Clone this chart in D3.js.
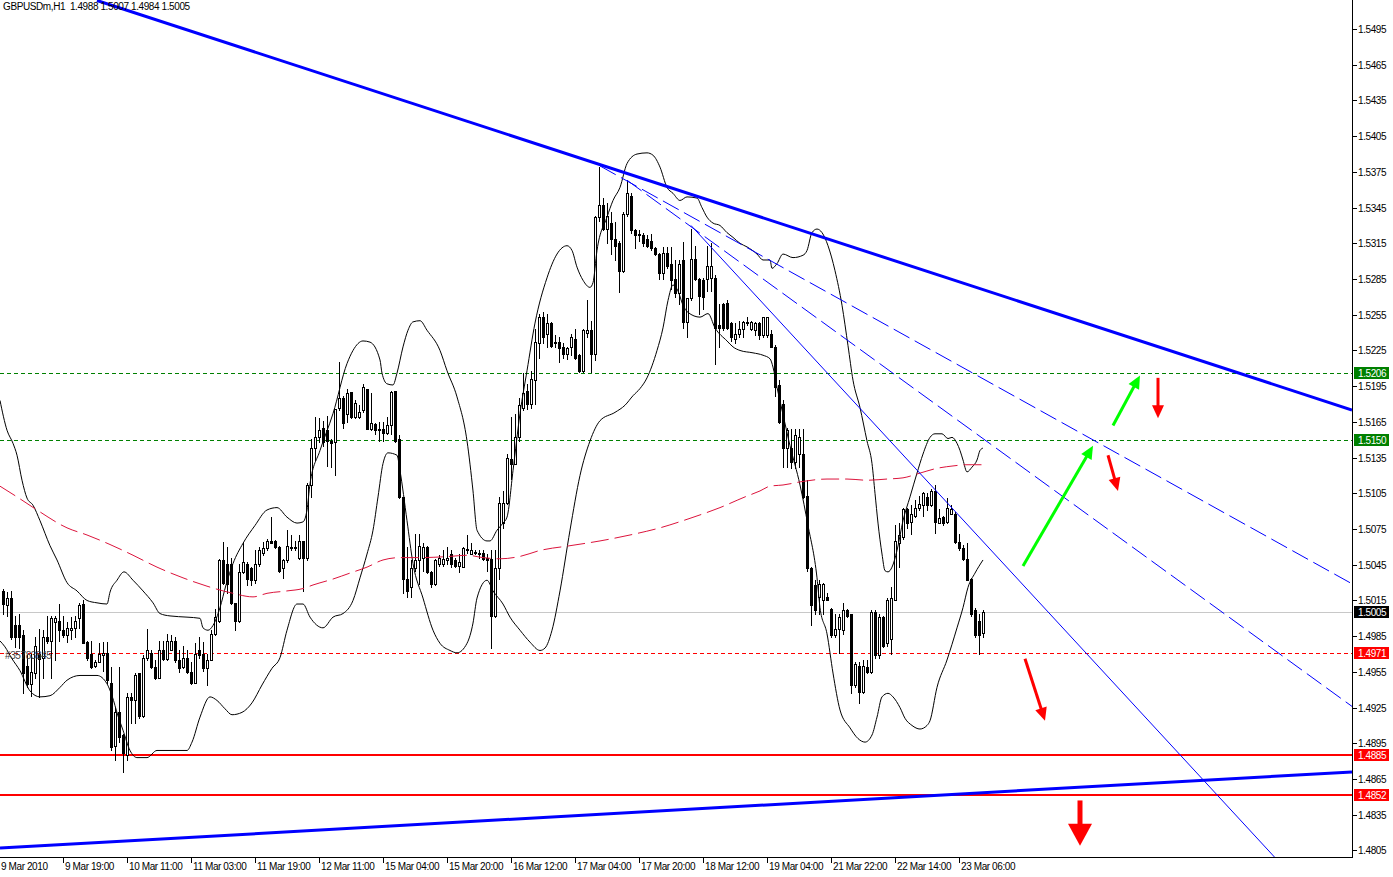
<!DOCTYPE html>
<html><head><meta charset="utf-8">
<script src="https://cdn.jsdelivr.net/npm/d3@7"></script>
<style>
body{margin:0;background:#fff}
svg{display:block}
text{font-family:"Liberation Sans",Arial,sans-serif;font-size:10px;letter-spacing:-0.4px}
</style></head>
<body><svg id="c" width="1393" height="877"></svg>
<script>
// ---------- DATA ----------
const opens = [1.5023,1.5011,1.5017,1.4994,1.4994,1.4986,1.4960,1.4945,1.4954,1.4970,
1.4967,1.4984,1.4981,1.4997,1.4998,1.4990,1.4986,1.4990,1.4992,1.5000,
1.5012,1.4980,1.4970,1.4960,1.4963,1.4969,1.4971,1.4946,1.4893,1.4921,
1.4902,1.4885,1.4934,1.4931,1.4954,1.4918,1.4967,1.4971,1.4959,1.4950,
1.4973,1.4966,1.4973,1.4981,1.4965,1.4959,1.4967,1.4955,1.4946,1.4973,
1.4970,1.4958,1.4965,1.4987,1.4998,1.5049,1.5046,1.5046,1.5013,1.4998,
1.5039,1.5046,1.5042,1.5032,1.5046,1.5055,1.5059,1.5065,1.5065,1.5060,
1.5042,1.5049,1.5060,1.5059,1.5051,1.5065,1.5051,1.5112,1.5143,1.5152,
1.5160,1.5158,1.5149,1.5148,1.5177,1.5185,1.5172,1.5190,1.5169,1.5169,
1.5175,1.5193,1.5159,1.5163,1.5158,1.5159,1.5156,1.5162,1.5191,1.5151,
1.5102,1.5033,1.5026,1.5042,1.5049,1.5051,1.5060,1.5039,1.5029,1.5046,
1.5046,1.5049,1.5054,1.5049,1.5044,1.5043,1.5057,1.5054,1.5056,1.5054,
1.5055,1.5051,1.5050,1.5002,1.5042,1.5080,1.5097,1.5134,1.5130,1.5152,
1.5177,1.5191,1.5180,1.5200,1.5231,1.5253,1.5239,1.5248,1.5232,1.5232,
1.5228,1.5222,1.5228,1.5235,1.5221,1.5208,1.5240,1.5242,1.5222,1.5337,
1.5347,1.5327,1.5332,1.5319,1.5315,1.5292,1.5340,1.5355,1.5326,1.5322,
1.5322,1.5319,1.5317,1.5311,1.5306,1.5290,1.5307,1.5298,1.5285,1.5273,
1.5301,1.5249,1.5269,1.5302,1.5285,1.5284,1.5285,1.5286,1.5286,1.5246,
1.5264,1.5265,1.5248,1.5235,1.5239,1.5243,1.5248,1.5243,1.5242,1.5248,
1.5238,1.5238,1.5239,1.5228,1.5196,1.5180,1.5143,1.5143,1.5131,1.5138,
1.5138,1.5103,1.5042,1.5028,1.5018,1.5015,1.5018,1.5008,1.4986,1.4991,
1.4990,1.5007,1.5004,1.4944,1.4960,1.4938,1.4959,1.4955,1.5005,1.4969,
1.5001,1.4979,1.4983,1.5015,1.5063,1.5068,1.5092,1.5081,1.5086,1.5093,
1.5095,1.5102,1.5095,1.5107,1.5080,1.5085,1.5081,1.5088,1.5088,1.5064,
1.5059,1.5050,1.5033,1.5007,1.4998,1.4988];

const highs = [1.5025,1.5022,1.5023,1.5002,1.5004,1.4990,1.4969,1.4970,1.4984,1.4991,
1.4990,1.5002,1.5002,1.5002,1.5012,1.5002,1.4997,1.5001,1.5002,1.5013,
1.5015,1.4981,1.4981,1.4965,1.4979,1.4980,1.4980,1.4959,1.4925,1.4959,
1.4903,1.4937,1.4937,1.4954,1.4954,1.4969,1.4991,1.4973,1.4965,1.4981,
1.4981,1.4987,1.4986,1.4984,1.4973,1.4977,1.4973,1.4963,1.4979,1.4984,
1.4980,1.4970,1.4990,1.5008,1.5050,1.5064,1.5060,1.5051,1.5013,1.5046,
1.5064,1.5047,1.5043,1.5057,1.5060,1.5064,1.5067,1.5085,1.5066,1.5061,
1.5050,1.5074,1.5070,1.5065,1.5070,1.5065,1.5114,1.5151,1.5169,1.5168,
1.5166,1.5170,1.5151,1.5176,1.5215,1.5187,1.5193,1.5190,1.5183,1.5179,
1.5197,1.5193,1.5189,1.5164,1.5165,1.5165,1.5169,1.5191,1.5191,1.5154,
1.5102,1.5060,1.5049,1.5071,1.5071,1.5063,1.5061,1.5040,1.5050,1.5053,
1.5057,1.5060,1.5057,1.5051,1.5054,1.5060,1.5070,1.5063,1.5057,1.5057,
1.5057,1.5054,1.5057,1.5057,1.5102,1.5107,1.5138,1.5169,1.5172,1.5185,
1.5206,1.5197,1.5208,1.5243,1.5256,1.5257,1.5256,1.5249,1.5238,1.5236,
1.5231,1.5228,1.5239,1.5243,1.5222,1.5243,1.5267,1.5250,1.5338,1.5379,
1.5353,1.5349,1.5341,1.5333,1.5317,1.5341,1.5368,1.5357,1.5327,1.5326,
1.5324,1.5322,1.5323,1.5312,1.5307,1.5312,1.5312,1.5312,1.5301,1.5301,
1.5316,1.5269,1.5327,1.5313,1.5286,1.5286,1.5313,1.5315,1.5288,1.5264,
1.5265,1.5267,1.5249,1.5248,1.5250,1.5250,1.5253,1.5250,1.5249,1.5249,
1.5253,1.5253,1.5242,1.5230,1.5200,1.5183,1.5160,1.5159,1.5159,1.5159,
1.5159,1.5116,1.5043,1.5032,1.5032,1.5030,1.5021,1.5009,1.5004,1.5004,
1.5013,1.5008,1.5004,1.4963,1.4963,1.4965,1.4965,1.5007,1.5007,1.5004,
1.5002,1.5017,1.5026,1.5078,1.5080,1.5093,1.5093,1.5095,1.5099,1.5103,
1.5106,1.5105,1.5109,1.5112,1.5092,1.5086,1.5101,1.5095,1.5089,1.5071,
1.5062,1.5063,1.5034,1.5009,1.5004,1.5007];

const lows = [1.5004,1.5002,1.4983,1.4976,1.4975,1.4937,1.4942,1.4935,1.4950,1.4934,
1.4950,1.4979,1.4950,1.4965,1.4981,1.4984,1.4980,1.4983,1.4984,1.4992,
1.4979,1.4965,1.4958,1.4959,1.4963,1.4956,1.4946,1.4889,1.4881,1.4896,
1.4871,1.4881,1.4912,1.4912,1.4916,1.4917,1.4965,1.4958,1.4949,1.4950,
1.4965,1.4965,1.4973,1.4963,1.4955,1.4958,1.4954,1.4945,1.4946,1.4967,
1.4956,1.4944,1.4965,1.4986,1.4997,1.5029,1.5021,1.5012,1.4990,1.4997,
1.5038,1.5028,1.5028,1.5030,1.5044,1.5053,1.5057,1.5063,1.5059,1.5039,
1.5034,1.5047,1.5057,1.5057,1.5050,1.5023,1.5049,1.5102,1.5133,1.5148,
1.5145,1.5128,1.5127,1.5120,1.5175,1.5160,1.5165,1.5168,1.5168,1.5168,
1.5173,1.5159,1.5158,1.5155,1.5149,1.5149,1.5155,1.5155,1.5148,1.5101,
1.5021,1.5018,1.5018,1.5040,1.5029,1.5040,1.5038,1.5026,1.5028,1.5044,
1.5044,1.5046,1.5043,1.5043,1.5039,1.5043,1.5055,1.5054,1.5054,1.5051,
1.5049,1.5040,1.4975,1.5001,1.5033,1.5076,1.5096,1.5117,1.5130,1.5149,
1.5175,1.5176,1.5177,1.5180,1.5219,1.5231,1.5228,1.5228,1.5228,1.5215,
1.5219,1.5218,1.5221,1.5218,1.5207,1.5207,1.5236,1.5207,1.5217,1.5334,
1.5326,1.5315,1.5306,1.5301,1.5274,1.5291,1.5338,1.5324,1.5311,1.5317,
1.5313,1.5312,1.5309,1.5305,1.5285,1.5285,1.5294,1.5277,1.5270,1.5264,
1.5244,1.5236,1.5267,1.5284,1.5256,1.5260,1.5275,1.5275,1.5214,1.5228,
1.5242,1.5243,1.5233,1.5231,1.5236,1.5236,1.5246,1.5242,1.5238,1.5235,
1.5236,1.5236,1.5228,1.5187,1.5164,1.5127,1.5127,1.5126,1.5126,1.5127,
1.5101,1.5040,1.4994,1.5004,1.5004,1.5004,1.5015,1.4984,1.4984,1.4971,
1.4987,1.5001,1.4937,1.4942,1.4929,1.4937,1.4954,1.4954,1.4967,1.4967,
1.4976,1.4977,1.4970,1.5015,1.5043,1.5067,1.5076,1.5071,1.5085,1.5091,
1.5086,1.5091,1.5094,1.5072,1.5080,1.5078,1.5080,1.5088,1.5063,1.5057,
1.5049,1.5032,1.5002,1.4984,1.4970,1.4984];

const closes = [1.5012,1.5017,1.4984,1.4984,1.4984,1.4954,1.4945,1.4955,1.4977,1.4966,
1.4984,1.4981,1.5000,1.5000,1.4990,1.4986,1.4992,1.4992,1.4998,1.5011,
1.4979,1.4967,1.4959,1.4963,1.4970,1.4971,1.4948,1.4892,1.4921,1.4900,
1.4887,1.4934,1.4931,1.4952,1.4918,1.4967,1.4973,1.4959,1.4950,1.4973,
1.4966,1.4981,1.4981,1.4965,1.4958,1.4967,1.4955,1.4946,1.4970,1.4969,
1.4958,1.4965,1.4987,1.5001,1.5049,1.5030,1.5029,1.5013,1.4998,1.5039,
1.5047,1.5033,1.5032,1.5046,1.5057,1.5059,1.5065,1.5063,1.5060,1.5040,
1.5049,1.5061,1.5059,1.5060,1.5065,1.5051,1.5112,1.5143,1.5152,1.5158,
1.5148,1.5149,1.5147,1.5176,1.5185,1.5164,1.5189,1.5169,1.5181,1.5173,
1.5194,1.5159,1.5164,1.5158,1.5159,1.5156,1.5162,1.5190,1.5149,1.5102,
1.5033,1.5023,1.5042,1.5049,1.5061,1.5060,1.5039,1.5029,1.5049,1.5051,
1.5050,1.5051,1.5046,1.5044,1.5047,1.5059,1.5058,1.5057,1.5055,1.5055,
1.5050,1.5049,1.5002,1.5042,1.5097,1.5097,1.5135,1.5130,1.5152,1.5179,
1.5189,1.5180,1.5201,1.5232,1.5253,1.5236,1.5248,1.5229,1.5231,1.5227,
1.5222,1.5227,1.5236,1.5219,1.5208,1.5242,1.5242,1.5222,1.5337,1.5347,
1.5327,1.5338,1.5319,1.5313,1.5292,1.5340,1.5357,1.5326,1.5322,1.5323,
1.5315,1.5313,1.5311,1.5306,1.5290,1.5307,1.5296,1.5284,1.5273,1.5298,
1.5249,1.5269,1.5302,1.5285,1.5271,1.5270,1.5296,1.5296,1.5244,1.5244,
1.5244,1.5244,1.5236,1.5239,1.5243,1.5249,1.5249,1.5249,1.5248,1.5238,
1.5253,1.5253,1.5228,1.5194,1.5165,1.5143,1.5158,1.5131,1.5154,1.5152,
1.5102,1.5042,1.5011,1.5007,1.5029,1.5029,1.5015,1.4986,1.4991,1.5001,
1.5007,1.5002,1.4944,1.4962,1.4938,1.4960,1.4955,1.5005,1.4969,1.5001,
1.4977,1.5015,1.5017,1.5065,1.5070,1.5092,1.5080,1.5088,1.5093,1.5096,
1.5105,1.5095,1.5107,1.5081,1.5084,1.5080,1.5093,1.5092,1.5064,1.5059,
1.5050,1.5032,1.5004,1.4986,1.4986,1.5005];

// Bollinger bands and moving average: [bar index, price]
const bbUpper = [[-0.75,1.5183],[1,1.5158],[2.5,1.5147],[3.5,1.5137],[4.75,1.5116],[6,1.5101],[7.5,1.5095],[9.25,1.5082],[11.75,1.5061],[13.5,1.5049],[16,1.5030],[18.5,1.5023],[21,1.5015],[23.5,1.5013],[26,1.5012],[26.75,1.5022],[28.5,1.5032],[30.25,1.5039],[32.5,1.5032],[35,1.5023],[37.5,1.5013],[39.25,1.5004],[41.75,1.5002],[46,1.5001],[49.25,1.5000],[50,1.4992],[51.25,1.4990],[52.5,1.4994],[54.25,1.5009],[55.75,1.5028],[57.5,1.5046],[60,1.5063],[63,1.5078],[66,1.5091],[68.5,1.5093],[71,1.5085],[73.5,1.5080],[75,1.5081],[76,1.5091],[76.75,1.5113],[79.25,1.5141],[82.5,1.5172],[86,1.5214],[87.5,1.5225],[90,1.5233],[91.75,1.5232],[94.25,1.5217],[94.75,1.5206],[96,1.5197],[97.5,1.5196],[98.5,1.5206],[100,1.5228],[101.25,1.5242],[102.5,1.5249],[104.25,1.5250],[106,1.5242],[109.25,1.5225],[111,1.5208],[113.5,1.5186],[116,1.5149],[117.5,1.5107],[118.5,1.5074],[121,1.5065],[121.75,1.5065],[123.5,1.5074],[125,1.5080],[126,1.5085],[127.5,1.5124],[129.25,1.5172],[131,1.5208],[133,1.5248],[136,1.5286],[138.5,1.5306],[141,1.5313],[142.25,1.5309],[143.5,1.5295],[145,1.5284],[146.75,1.5278],[147.5,1.5282],[148.5,1.5309],[151,1.5337],[152.5,1.5351],[154.25,1.5362],[156,1.5382],[158.5,1.5390],[161,1.5391],[162.5,1.5389],[164.25,1.5379],[166,1.5362],[167.5,1.5357],[169.25,1.5351],[171,1.5354],[173.5,1.5353],[174.75,1.5345],[176,1.5337],[177.5,1.5332],[179.25,1.5330],[181,1.5324],[182.5,1.5320],[184.25,1.5315],[186,1.5312],[188.5,1.5306],[190,1.5301],[191.75,1.5301],[192.25,1.5294],[193.5,1.5298],[195,1.5306],[197.5,1.5303],[200,1.5305],[201,1.5309],[202.25,1.5324],[203.5,1.5327],[204.75,1.5324],[206.25,1.5313],[208,1.5292],[209.75,1.5263],[211.25,1.5229],[212.5,1.5200],[214.25,1.5177],[216,1.5149],[217.25,1.5130],[218,1.5105],[218.75,1.5080],[219.75,1.5054],[220.5,1.5040],[221.25,1.5039],[222.25,1.5043],[223.5,1.5057],[225,1.5082],[226.75,1.5102],[228.5,1.5122],[230,1.5138],[231.75,1.5152],[233,1.5155],[234.75,1.5155],[236.25,1.5151],[237.25,1.5152],[238.5,1.5147],[239.25,1.5141],[240,1.5133],[241,1.5123],[242.25,1.5127],[243.5,1.5133],[244.25,1.5141],[245,1.5143]];

const bbLower = [[-0.75,1.4981],[0.5,1.4976],[2.25,1.4966],[4.25,1.4956],[6.75,1.4939],[9.25,1.4934],[11.75,1.4935],[14.25,1.4942],[16,1.4948],[19.25,1.4952],[23.5,1.4952],[26,1.4945],[27.25,1.4935],[28.75,1.4918],[30,1.4906],[31.75,1.4889],[33.5,1.4883],[36,1.4883],[38.5,1.4889],[41.75,1.4889],[46,1.4889],[47.25,1.4896],[49.25,1.4917],[51.75,1.4934],[53.5,1.4931],[55.5,1.4924],[57.25,1.4919],[59.75,1.4921],[62.25,1.4929],[64.75,1.4944],[67.25,1.4958],[69.25,1.4967],[71,1.4990],[73.5,1.5012],[75,1.5012],[76.75,1.5001],[80,1.4992],[82.5,1.5001],[85,1.5004],[87.5,1.5015],[89.25,1.5034],[91,1.5054],[92.5,1.5074],[93.75,1.5102],[95,1.5130],[96.25,1.5139],[98.5,1.5137],[99.25,1.5124],[101,1.5082],[102.5,1.5046],[105,1.5017],[107.5,1.4990],[109.25,1.4979],[111.75,1.4973],[113.5,1.4971],[116,1.4979],[117.5,1.4996],[118.5,1.5017],[121,1.5032],[122.5,1.5023],[125,1.5012],[126.75,1.5001],[129.25,1.4990],[131.75,1.4980],[134.25,1.4973],[135.5,1.4975],[137.25,1.4990],[139.25,1.5023],[141.75,1.5074],[144.25,1.5120],[146.75,1.5149],[149.25,1.5166],[153,1.5173],[155.5,1.5179],[157.5,1.5187],[159.25,1.5193],[161,1.5202],[163.5,1.5225],[165,1.5244],[166.25,1.5267],[167.5,1.5280],[168.75,1.5275],[170,1.5263],[171.25,1.5257],[174.25,1.5253],[176.25,1.5256],[178,1.5244],[181,1.5233],[182.5,1.5228],[184.25,1.5225],[187.5,1.5223],[190,1.5221],[191.75,1.5218],[192.5,1.5211],[193.5,1.5194],[194.75,1.5175],[196.75,1.5145],[199.25,1.5112],[201.25,1.5078],[203.5,1.5034],[204.25,1.5009],[206,1.4987],[207.5,1.4954],[209.25,1.4923],[211.75,1.4908],[213.75,1.4899],[215.5,1.4896],[217.25,1.4902],[218.5,1.4917],[219.75,1.4934],[221.25,1.4937],[222.5,1.4934],[224.25,1.4925],[225.5,1.4916],[227.25,1.4910],[229.25,1.4907],[231,1.4910],[231.75,1.4914],[233.5,1.4942],[236,1.4965],[238.5,1.4992],[240,1.5009],[241.25,1.5026],[243,1.5038],[245,1.5049]];

const maLine = [[-0.75,1.5111],[3.5,1.5102],[8.5,1.5091],[16,1.5076],[21,1.5070],[26.75,1.5062],[32.5,1.5053],[38.5,1.5043],[45,1.5034],[51,1.5027],[57.5,1.5021],[62.5,1.5018],[66,1.5021],[71,1.5023],[75,1.5025],[77.5,1.5028],[82.5,1.5033],[86.75,1.5038],[91,1.5043],[95,1.5049],[99.25,1.5051],[104.25,1.5051],[111.75,1.5052],[116,1.5053],[120,1.5051],[124.25,1.5050],[129.25,1.5052],[134.25,1.5057],[141.75,1.5061],[149.25,1.5065],[156.75,1.5070],[164.25,1.5076],[171.75,1.5084],[179.25,1.5093],[185.5,1.5102],[189.25,1.5107],[191.75,1.5111],[195,1.5112],[200,1.5115],[206,1.5117],[211,1.5117],[216,1.5116],[221,1.5117],[225,1.5118],[229.25,1.5122],[233.5,1.5126],[237.5,1.5128],[241,1.5129],[245,1.5129]];

// Horizontal levels
const greenLevels = [1.5206, 1.5150];
const redDashedLevels = [1.4971];
const redSolidLevels = [1.4885, 1.4852];
const bidPrice = 1.5005;

// Trend lines [bar index, price]
const trendThickUpper = [[23.5,1.5519],[337.25,1.5175]];
const trendThickLower = [[-0.75,1.4807],[337.25,1.4871]];
const trendDashUpper = [[149.25,1.5380],[337.25,1.5029]];
const trendDashLower = [[156,1.5368],[337.25,1.4926]];
const trendThin = [[172,1.5330],[318,1.4799]];

// Arrows [bar index, price] from -> to
const arrowFrom = [[255,1.5044],[277.5,1.5162],[288.75,1.5202],[276.25,1.5137],[255.5,1.4966],[269.25,1.4847]];
const arrowTo   = [[272.5,1.5145],[284.25,1.5204],[288.75,1.5168],[278.75,1.5107],[260.5,1.4914],[269.25,1.4809]];
const arrowKind = ["up","up","down","down","down","bigdown"];

// Axis ticks
const priceTicks = [1.5495,1.5465,1.5435,1.5405,1.5375,1.5345,1.5315,1.5285,1.5255,1.5225,1.5195,1.5165,1.5135,1.5105,1.5075,1.5045,1.5015,1.4985,1.4955,1.4925,1.4895,1.4865,1.4835,1.4805];
const timeTickIdx = [-1,15,31,47,63,79,95,111,127,143,159,175,191,207,223,239];
const timeTickLabels = ["9 Mar 2010","9 Mar 19:00","10 Mar 11:00","11 Mar 03:00","11 Mar 19:00","12 Mar 11:00","15 Mar 04:00","15 Mar 20:00","16 Mar 12:00","17 Mar 04:00","17 Mar 20:00","18 Mar 12:00","19 Mar 04:00","21 Mar 22:00","22 Mar 14:00","23 Mar 06:00"];

const priceMarks = [1.5206, 1.5150, 1.5005, 1.4971, 1.4885, 1.4852];
const priceMarkKind = ["green","green","black","red","red","red"];

const titleText = "GBPUSDm,H1  1.4988 1.5007 1.4984 1.5005";
const orderText = "#35783845";

// ---------- DRAW ----------
const plotR = 1352, plotB = 857;
const x = d3.scaleLinear().domain([-0.75, 337.25]).range([0, plotR]);
const y = d3.scaleLinear().domain([1.47995, 1.55194]).range([plotB, 0]);

const svg = d3.select("#c");
svg.append("rect").attr("width",1393).attr("height",877).attr("fill","#fff");
svg.append("defs").append("clipPath").attr("id","plot")
  .append("rect").attr("x",0).attr("y",0).attr("width",plotR).attr("height",plotB);
const g = svg.append("g").attr("clip-path","url(#plot)");

const hy = p => Math.round(y(p)) + 0.5;

// bid line
g.append("line").attr("x1",0).attr("x2",plotR).attr("y1",hy(bidPrice)).attr("y2",hy(bidPrice))
  .attr("stroke","#c8c8c8").attr("stroke-width",1);

// green dashed levels
g.selectAll(".glev").data(greenLevels).join("line").attr("class","glev")
  .attr("x1",0).attr("x2",plotR).attr("y1",hy).attr("y2",hy)
  .attr("stroke","#008000").attr("stroke-dasharray","4,3");
g.selectAll(".rdlev").data(redDashedLevels).join("line").attr("class","rdlev")
  .attr("x1",0).attr("x2",plotR).attr("y1",hy).attr("y2",hy)
  .attr("stroke","#ff0000").attr("stroke-dasharray","4,3");
g.selectAll(".rslev").data(redSolidLevels).join("line").attr("class","rslev")
  .attr("x1",0).attr("x2",plotR).attr("y1",d=>Math.round(y(d))).attr("y2",d=>Math.round(y(d)))
  .attr("stroke","#ff0000").attr("stroke-width",2);

// order label text
svg.append("text").attr("x",5).attr("y",Math.round(y(1.4971))+6).attr("fill","#3c3c3c").text(orderText);

// candles
const candles = opens.map((o,i)=>({i, o, h:Math.max(highs[i],o,closes[i]), l:Math.min(lows[i],o,closes[i]), c:closes[i]}));
const cg = g.append("g").attr("shape-rendering","crispEdges");
cg.selectAll(".wick").data(candles).join("line").attr("class","wick")
  .attr("x1",d=>Math.round(x(d.i))+0.5).attr("x2",d=>Math.round(x(d.i))+0.5)
  .attr("y1",d=>Math.round(y(d.h))).attr("y2",d=>Math.round(y(d.l))+1)
  .attr("stroke","#000").attr("stroke-width",1);
cg.selectAll(".bear").data(candles.filter(d=>d.c<d.o)).join("rect").attr("class","bear")
  .attr("x",d=>Math.round(x(d.i))-1).attr("width",3)
  .attr("y",d=>Math.round(y(d.o))).attr("height",d=>Math.max(1,Math.round(y(d.c))-Math.round(y(d.o))+1))
  .attr("fill","#000");
cg.selectAll(".bull").data(candles.filter(d=>d.c>d.o)).join("rect").attr("class","bull")
  .attr("x",d=>Math.round(x(d.i))-0.5).attr("width",2)
  .attr("y",d=>Math.round(y(d.c))+0.5).attr("height",d=>Math.max(0,Math.round(y(d.o))-Math.round(y(d.c))))
  .attr("fill","#fff").attr("stroke","#000").attr("stroke-width",1);
cg.selectAll(".doji").data(candles.filter(d=>d.c===d.o)).join("line").attr("class","doji")
  .attr("x1",d=>Math.round(x(d.i))-1).attr("x2",d=>Math.round(x(d.i))+2)
  .attr("y1",d=>hy(d.o)).attr("y2",d=>hy(d.o)).attr("stroke","#000");

// bands & MA
const lineGen = d3.line().x(d=>x(d[0])).y(d=>y(d[1])).curve(d3.curveMonotoneX);
g.append("path").datum(bbUpper).attr("d",lineGen).attr("fill","none").attr("stroke","#000").attr("stroke-width",1);
g.append("path").datum(bbLower).attr("d",lineGen).attr("fill","none").attr("stroke","#000").attr("stroke-width",1);
g.append("path").datum(maLine).attr("d",lineGen).attr("fill","none").attr("stroke","#dc143c").attr("stroke-width",1).attr("stroke-dasharray","18,6");

// trend lines (rays extended)
function ray(pts, ext){
  const [a,b]=pts; const s=(b[1]-a[1])/(b[0]-a[0]);
  const xe = ext!==undefined?ext:b[0];
  return [[a[0],a[1]],[xe, a[1]+s*(xe-a[0])]];
}
const straight = d3.line().x(d=>x(d[0])).y(d=>y(d[1]));
g.append("path").datum(trendThickUpper).attr("d",straight).attr("stroke","#0000ff").attr("stroke-width",3).attr("fill","none");
g.append("path").datum(trendThickLower).attr("d",straight).attr("stroke","#0000ff").attr("stroke-width",3).attr("fill","none");
g.append("path").datum(trendDashUpper).attr("d",straight).attr("stroke","#0000ff").attr("stroke-width",1).attr("stroke-dasharray","18,6").attr("fill","none");
g.append("path").datum(trendDashLower).attr("d",straight).attr("stroke","#0000ff").attr("stroke-width",1).attr("stroke-dasharray","18,6").attr("fill","none");
g.append("path").datum(ray(trendThin, 340)).attr("d",straight).attr("stroke","#0000ff").attr("stroke-width",1).attr("fill","none");

// arrows
arrowFrom.forEach((f,k)=>{
  const t = arrowTo[k];
  const x1=x(f[0]), y1=y(f[1]), x2=x(t[0]), y2=y(t[1]);
  const kind=arrowKind[k];
  const col = kind==="up" ? "#00ff00" : "#ff0000";
  const big = kind==="bigdown";
  const L = big?22:13, W = big?12:6, sw = big?5:3;
  const dx=x2-x1, dy=y2-y1, len=Math.hypot(dx,dy), ux=dx/len, uy=dy/len;
  const bx=x2-ux*L, by=y2-uy*L;
  g.append("line").attr("x1",x1).attr("y1",y1).attr("x2",bx+ux*1).attr("y2",by+uy*1)
    .attr("stroke",col).attr("stroke-width",sw);
  g.append("path").attr("d",`M${x2},${y2}L${bx-uy*W},${by+ux*W}L${bx+uy*W},${by-ux*W}Z`).attr("fill",col);
});

// axes
const ax = svg.append("g").attr("shape-rendering","crispEdges");
ax.append("line").attr("x1",plotR+0.5).attr("x2",plotR+0.5).attr("y1",0).attr("y2",plotB+1).attr("stroke","#000");
ax.append("line").attr("x1",0).attr("x2",plotR+1).attr("y1",plotB+0.5).attr("y2",plotB+0.5).attr("stroke","#000");
ax.selectAll(".yt").data(priceTicks).join("line").attr("class","yt")
  .attr("x1",plotR+1).attr("x2",plotR+5).attr("y1",hy).attr("y2",hy).attr("stroke","#000");
svg.selectAll(".yl").data(priceTicks).join("text").attr("class","yl")
  .attr("x",plotR+6).attr("y",d=>Math.round(y(d))+4).attr("fill","#000").text(d=>d.toFixed(4));
ax.selectAll(".xt").data(timeTickIdx).join("line").attr("class","xt")
  .attr("x1",d=>Math.round(x(d))+0.5).attr("x2",d=>Math.round(x(d))+0.5).attr("y1",plotB+1).attr("y2",plotB+6).attr("stroke","#000");
svg.selectAll(".xl").data(timeTickIdx).join("text").attr("class","xl")
  .attr("x",d=>Math.round(x(d))+2).attr("y",plotB+13).attr("fill","#000").text((d,k)=>timeTickLabels[k]);

// price marks on axis
const markColor = {green:"#008000", black:"#000000", red:"#ff0000"};
priceMarks.forEach((p,k)=>{
  const yy=Math.round(y(p));
  svg.append("rect").attr("x",plotR+2).attr("y",yy-6).attr("width",35).attr("height",12)
    .attr("fill",markColor[priceMarkKind[k]]).attr("shape-rendering","crispEdges");
  svg.append("text").attr("x",plotR+6).attr("y",yy+4).attr("fill","#fff").text(p.toFixed(4));
});

// title
svg.append("text").attr("x",3).attr("y",10).attr("fill","#000").attr("xml:space","preserve").style("white-space","pre").text(titleText);
</script>
</body></html>
